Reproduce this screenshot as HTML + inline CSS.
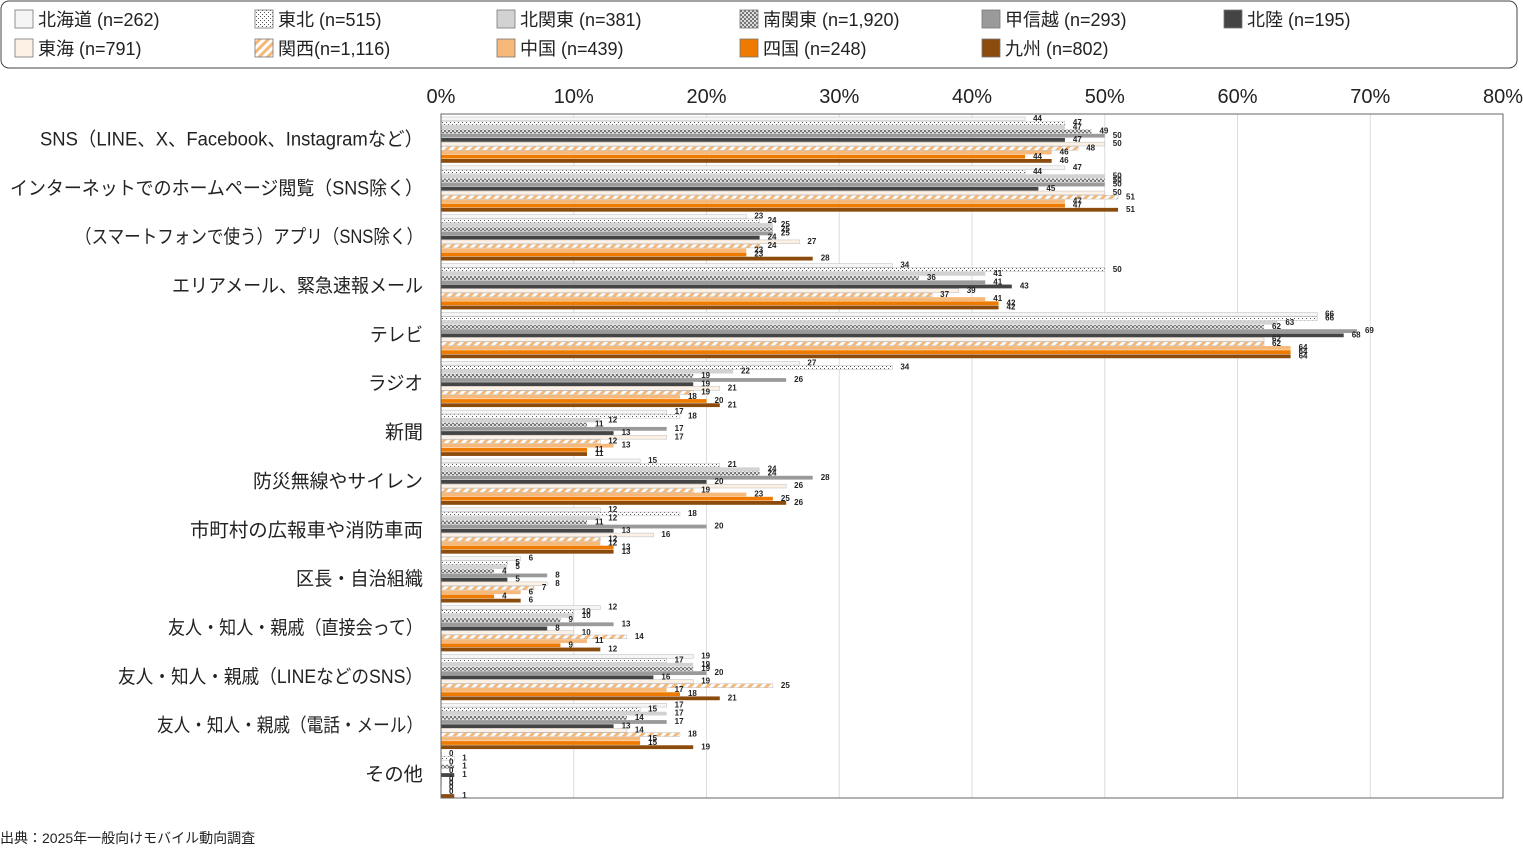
<!DOCTYPE html>
<html><head><meta charset="utf-8">
<style>
html,body{margin:0;padding:0;background:#fff;width:1523px;height:849px;overflow:hidden;}
svg{display:block;font-family:"Liberation Sans","Noto Sans CJK JP",sans-serif;}
</style></head>
<body>
<svg id="c" width="1523" height="849" xmlns="http://www.w3.org/2000/svg">
<defs>
<pattern id="dot" width="4" height="4" patternUnits="userSpaceOnUse"><rect width="4" height="4" fill="#fff"/><rect x="0" y="0" width="1" height="1" fill="#555"/><rect x="2" y="2" width="1" height="1" fill="#555"/></pattern>
<pattern id="cross" width="4" height="4" patternUnits="userSpaceOnUse"><rect width="4" height="4" fill="#777"/><rect x="0" y="0" width="2" height="2" fill="#ddd"/><rect x="2" y="2" width="2" height="2" fill="#ddd"/></pattern>
<pattern id="stripe" width="6" height="6" patternUnits="userSpaceOnUse" patternTransform="rotate(45)"><rect width="6" height="6" fill="#fff"/><rect width="3" height="6" fill="#f6b878"/></pattern>
</defs>
<rect x="1" y="1" width="1516" height="67" rx="8" fill="#fff" stroke="#444" stroke-width="1"/>
<g id="g"></g>
<text x="0" y="843" font-size="14" fill="#222">出典：2025年一般向けモバイル動向調査</text>
</svg>
<script>
var g=document.getElementById('g');var ns='http://www.w3.org/2000/svg';
function el(t,a,txt){var e=document.createElementNS(ns,t);for(var k in a)e.setAttribute(k,a[k]);if(txt!=null)e.textContent=txt;g.appendChild(e);return e;}
var ser=[["北海道 (n=262)","#f5f5f5"],["東北 (n=515)","url(#dot)"],["北関東 (n=381)","#d2d2d2"],["南関東 (n=1,920)","url(#cross)"],["甲信越 (n=293)","#9a9a9a"],["北陸 (n=195)","#444"],["東海 (n=791)","#fdf1e6"],["関西(n=1,116)","url(#stripe)"],["中国 (n=439)","#f7b97a"],["四国 (n=248)","#ee7b00"],["九州 (n=802)","#8a4b0c"]];
var cols=[15,255,497,740,982,1224];
ser.forEach(function(s,i){var r=i<6?0:1,c=i<6?i:i-6;var x=cols[c],y=r?39:10;
el('rect',{x:x,y:y,width:18,height:18,fill:s[1],stroke:'#777','stroke-width':0.8});
el('text',{x:x+23,y:y+16,'font-size':18,fill:'#222'},s[0]);});
var L=441,R=1503,T=114,B=798,pp=(R-L)/80;
for(var k=0;k<=8;k++){var x=L+k*10*pp;
 if(k>0&&k<8)el('line',{x1:x,y1:T,x2:x,y2:B,stroke:'#ddd','stroke-width':1});
 el('text',{x:x,y:103,'font-size':20,'text-anchor':'middle',fill:'#222'},(k*10)+'%');}
var cats=["SNS（LINE、X、Facebook、Instagramなど）","インターネットでのホームページ閲覧（SNS除く）","（スマートフォンで使う）アプリ（SNS除く）","エリアメール、緊急速報メール","テレビ","ラジオ","新聞","防災無線やサイレン","市町村の広報車や消防車両","区長・自治組織","友人・知人・親戚（直接会って）","友人・知人・親戚（LINEなどのSNS）","友人・知人・親戚（電話・メール）","その他"];
var tl=[383,413,348,251,53,55,38,170,233,127,255,305,266,58];
var d=[[44,47,47,49,50,47,50,48,46,44,46],[47,44,50,50,50,45,50,51,47,47,51],[23,24,25,25,25,24,27,24,23,23,28],[34,50,41,36,41,43,39,37,41,42,42],[66,66,63,62,69,68,62,62,64,64,64],[27,34,22,19,26,19,21,19,18,20,21],[17,18,12,11,17,13,17,12,13,11,11],[15,21,24,24,28,20,26,19,23,25,26],[12,18,12,11,20,13,16,12,12,13,13],[6,5,5,4,8,5,8,7,6,4,6],[12,10,10,9,13,8,10,14,11,9,12],[19,17,19,19,20,16,19,25,17,18,21],[17,15,17,14,17,13,14,18,15,15,19],[0,1,0,1,0,1,0,0,0,0,1]];
var gp=(B-T)/14,bh=4.2;
cats.forEach(function(c,i){var y0=T+i*gp+3;
 el('text',{x:423,y:T+i*gp+gp/2+7,'font-size':19,'text-anchor':'end',fill:'#222',textLength:tl[i],lengthAdjust:'spacingAndGlyphs'},c);
 d[i].forEach(function(v,j){var y=y0+j*bh,w=v*pp;
  el('rect',{x:L,y:y,width:Math.max(w,0.5),height:bh-0.4,fill:ser[j][1],stroke:(j==0||j==6||j==1||j==7)?'#bbb':'none','stroke-width':0.5});
  el('text',{x:L+w+8,y:y+4,'font-size':8,'font-weight':'bold',fill:'#222'},v);});});
el('rect',{x:L,y:T,width:R-L,height:B-T,fill:'none',stroke:'#666','stroke-width':1});
</script>
</body></html>
